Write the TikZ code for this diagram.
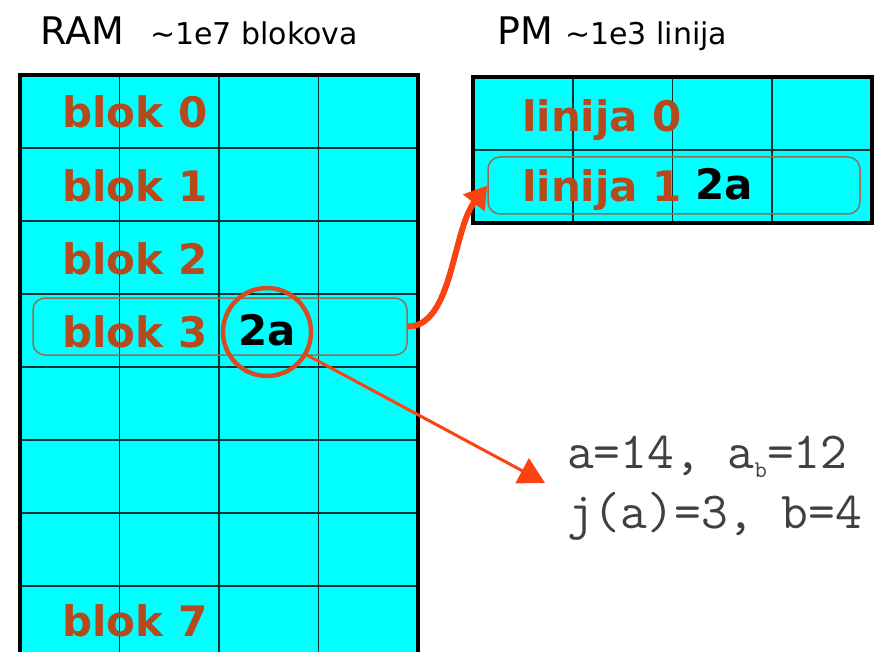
\documentclass[tikz,border=0pt]{standalone}
\usepackage{fontspec}
\setmainfont{DejaVu Sans}
\usepackage{xcolor}
\usetikzlibrary{arrows.meta,positioning}

\definecolor{blokbrown}{RGB}{182,74,28}
\definecolor{rimbrown}{RGB}{150,110,85}
\definecolor{hotred}{RGB}{250,66,18}
\definecolor{ringred}{RGB}{214,76,32}
\definecolor{gridline}{RGB}{10,50,50}
\definecolor{cellcyan}{RGB}{0,255,255}

\begin{document}
\begin{tikzpicture}[
    x=1pt, y=-1pt,
    cell/.style={draw=gridline, line width=1.6pt, fill=cellcyan},
    frame/.style={draw=black, line width=4pt},
    title/.style={anchor=base west, inner sep=0pt, font=\fontsize{38}{42}\selectfont},
    subtitle/.style={anchor=base west, inner sep=0pt, font=\fontsize{30}{34}\selectfont},
    lbl/.style={anchor=base west, inner sep=0pt, text=blokbrown, font=\fontsize{42}{48}\selectfont\bfseries},
    val/.style={anchor=base west, inner sep=0pt, font=\fontsize{42}{48}\selectfont\bfseries},
    band/.style={draw=rimbrown, line width=1.5pt, rounded corners=12pt, minimum height=57pt, inner sep=0pt},
    ring/.style={circle, draw=ringred, line width=4.5pt, minimum size=88pt, inner sep=0pt},
    info/.style={anchor=base west, inner sep=0pt, text=black!75, font=\ttfamily\fontsize{52}{56}\selectfont},
    arrow/.style={-{Triangle[length=26pt,width=28pt]}, line width=3pt, draw=hotred},
    bigarrow/.style={-{Triangle[length=22pt,width=26pt]}, line width=6pt, draw=hotred}
]
    \useasboundingbox (0,0) rectangle (874,652);
    \clip (0,0) rectangle (874,652);

    \node [title] (ram) at (40,45) {RAM};
    \node [subtitle] (ramsize) at (150,45) {\textasciitilde 1e7 blokova};
    \node [title] (pm) at (497,45) {PM};
    \node [subtitle] (pmsize) at (565,45) {\textasciitilde 1e3 linija};

    \foreach \r in {0,...,7}
        \foreach \c in {0,...,3}
            \draw [cell] (20+99.5*\c, 75+73*\r) rectangle ++(99.5,73);
    \draw [frame] (20,75) rectangle (418,670);

    \foreach \r in {0,1}
        \foreach \c in {0,...,3}
            \draw [cell] (473+99.75*\c, 77+73*\r) rectangle ++(99.75,73);
    \draw [frame] (473,77) rectangle (872,223);

    \foreach \k/\y in {0/128,1/201,2/274,3/347,7/636}
        \node [lbl] (blok\k) at (62,\y) {blok \k};
    \node [lbl] (linija0) at (522,132) {linija 0};
    \node [lbl] (linija1) at (522,202) {linija 1};

    \node [val] (ramval) at (238,345) {2a};
    \node [val] (pmval) at (695,200) {2a};

    \node [band, minimum width=374pt] (b3band) at (220,326.5) {};
    \node [band, minimum width=372pt] (l1band) at (674,185.5) {};
    \node [ring] (hit) at (267,332) {};

    \node [info] (sums) at (567,468) {a=14, a\raisebox{-9pt}{\fontsize{24}{24}\selectfont b}=12};
    \node [info] (jline) at (567,528) {j(a)=3, b=4};
    \coordinate (tip) at (545,483);

    \draw [bigarrow] (b3band.east) .. controls +(45,0) and +(-35,45) .. (l1band.west);
    \draw [arrow] (hit.-30) -- (tip);
\end{tikzpicture}
\end{document}
